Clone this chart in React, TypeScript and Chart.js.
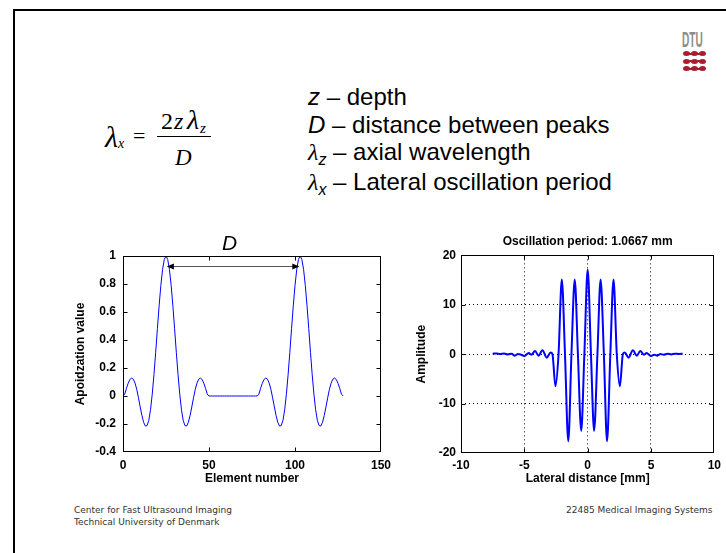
import React, { useEffect, useRef } from "react";
import { Chart, registerables } from "chart.js";

Chart.register(...registerables);

const SANS = '"Liberation Sans", Arial, Helvetica, sans-serif';
const SERIF = '"Liberation Serif", "Times New Roman", serif';

// ---------- Left chart: apodization (value per element number 0..128) ----------
const apodizationValues = [
  0, 0.013, 0.055, 0.091, 0.118, 0.128, 0.12, 0.092, 0.047, -0.013, -0.078, -0.139, -0.188, -0.215, -0.211, -0.174, -0.098, 0.013, 0.153, 0.312, 0.481, 0.644, 0.789, 0.903, 0.975, 1,
  0.975, 0.903, 0.789, 0.644, 0.481, 0.312, 0.153, 0.013, -0.098, -0.174, -0.211, -0.215, -0.188, -0.139, -0.078, -0.013, 0.047, 0.092, 0.12, 0.128, 0.118, 0.091, 0.055, 0.013, 0,
  0, 0, 0, 0, 0, 0, 0, 0, 0, 0, 0, 0, 0, 0, 0, 0, 0, 0, 0, 0, 0, 0, 0, 0, 0, 0, 0,
  0, 0.013, 0.055, 0.091, 0.118, 0.128, 0.12, 0.092, 0.047, -0.013, -0.078, -0.139, -0.188, -0.215, -0.211, -0.174, -0.098, 0.013, 0.153, 0.312, 0.481, 0.644, 0.789, 0.903, 0.975, 1,
  0.975, 0.903, 0.789, 0.644, 0.481, 0.312, 0.153, 0.013, -0.098, -0.174, -0.211, -0.215, -0.188, -0.139, -0.078, -0.013, 0.047, 0.092, 0.12, 0.128, 0.118, 0.091, 0.055, 0.013, 0,
];
const elementTicks = [0, 50, 100, 150];
const apodTicks = [-0.4, -0.2, 0, 0.2, 0.4, 0.6, 0.8, 1];
const apodTickLabels = ["-0.4", "-0.2", "0", "0.2", "0.4", "0.6", "0.8", "1"];
const arrowFrom = 25.5;
const arrowTo = 102.5;
const arrowLevel = 0.93;
const arrowText = "D";
const arrowTextAt = 62;

// ---------- Right chart: lateral oscillation ----------
const lateralDistance = [
  -7.5, -7.2, -6.9, -6.6, -6.3, -6.0, -5.75, -5.5, -5.25, -5.0, -4.8, -4.65, -4.45, -4.15, -3.88, -3.57, -3.23, -2.92,
  -2.78, -2.54, -2.3, -2.04, -1.79, -1.53, -1.28, -1.02, -0.77, -0.51, -0.26, 0, 0.26, 0.51, 0.77, 1.02, 1.28, 1.53, 1.79, 2.04, 2.3, 2.54, 2.78,
  2.92, 3.23, 3.57, 3.88, 4.15, 4.45, 4.65, 4.8, 5.0, 5.25, 5.5, 5.75, 6.0, 6.3, 6.6, 6.9, 7.2, 7.5,
];
const amplitude = [
  0.1, 0.15, 0.05, 0.15, -0.05, 0.1, -0.3, 0.05, -0.1, -0.35, 0.0, 0.25, -0.1, 0.65, -0.3, 0.8, -0.7, 0.35,
  0, -6.5, 0, 15.1, 0, -17.6, 0, 15.1, 0, -15.5, 0, 17.1, 0, -15.5, 0, 15.1, 0, -17.6, 0, 15.1, 0, -6.5, 0,
  0.35, -0.7, 0.8, -0.3, 0.65, -0.1, 0.25, 0, -0.35, -0.1, -0.3, 0.05, -0.1, 0.1, -0.05, 0.1, 0.05, 0.1,
];
const lateralTicks = [-10, -5, 0, 5, 10];
const amplitudeTicks = [-20, -10, 0, 10, 20];
const rightTitle = "Oscillation period: 1.0667 mm";

const tickFont = { family: SANS, size: 12, weight: "bold" as const };

// MATLAB-like box with inward tick marks
const framePlugin = {
  id: "matlabFrame",
  afterDatasetsDraw(chart: any) {
    const { ctx, chartArea: a, scales } = chart;
    const L = Math.round(a.left) + 0.5;
    const R = Math.round(a.right) - 0.5;
    const T = Math.round(a.top) + 0.5;
    const B = Math.round(a.bottom) - 0.5;
    ctx.save();
    ctx.strokeStyle = "#000";
    ctx.lineWidth = 1;
    ctx.strokeRect(L, T, R - L, B - T);
    const len = 4;
    ctx.beginPath();
    for (const t of scales.x.ticks) {
      const px = Math.round(scales.x.getPixelForValue(t.value)) + 0.5;
      if (px <= L + 1 || px >= R - 1) continue;
      ctx.moveTo(px, B);
      ctx.lineTo(px, B - len);
      ctx.moveTo(px, T);
      ctx.lineTo(px, T + len);
    }
    for (const t of scales.y.ticks) {
      const py = Math.round(scales.y.getPixelForValue(t.value)) + 0.5;
      if (py <= T + 1 || py >= B - 1) continue;
      ctx.moveTo(L, py);
      ctx.lineTo(L + len, py);
      ctx.moveTo(R, py);
      ctx.lineTo(R - len, py);
    }
    ctx.stroke();
    ctx.restore();
  },
};

const arrowPlugin = {
  id: "peakArrow",
  afterDatasetsDraw(chart: any) {
    const { ctx, scales, chartArea } = chart;
    const x1 = scales.x.getPixelForValue(arrowFrom);
    const x2 = scales.x.getPixelForValue(arrowTo);
    const yy = Math.round(scales.y.getPixelForValue(arrowLevel)) + 0.5;
    ctx.save();
    ctx.strokeStyle = "#555";
    ctx.lineWidth = 1;
    ctx.beginPath();
    ctx.moveTo(x1 + 6, yy);
    ctx.lineTo(x2 - 6, yy);
    ctx.stroke();
    ctx.fillStyle = "#000";
    ctx.beginPath();
    ctx.moveTo(x1, yy);
    ctx.lineTo(x1 + 7, yy - 3);
    ctx.lineTo(x1 + 7, yy + 3);
    ctx.closePath();
    ctx.fill();
    ctx.beginPath();
    ctx.moveTo(x2, yy);
    ctx.lineTo(x2 - 7, yy - 3);
    ctx.lineTo(x2 - 7, yy + 3);
    ctx.closePath();
    ctx.fill();
    ctx.font = `italic 21px ${SANS}`;
    ctx.textAlign = "center";
    ctx.textBaseline = "alphabetic";
    ctx.fillText(arrowText, scales.x.getPixelForValue(arrowTextAt), chartArea.top - 6.5);
    ctx.restore();
  },
};

function leftConfig(): any {
  return {
    type: "line",
    data: {
      datasets: [
        {
          data: apodizationValues.map((y, n) => ({ x: n, y })),
          borderColor: "#0000ff",
          borderWidth: 1,
          pointRadius: 0,
          tension: 0,
          fill: false,
        },
      ],
    },
    options: {
      animation: false,
      responsive: false,
      maintainAspectRatio: false,
      layout: { padding: { left: 0, top: 26, right: 19, bottom: 0 } },
      plugins: { legend: { display: false }, tooltip: { enabled: false }, title: { display: false } },
      scales: {
        x: {
          type: "linear",
          min: 0,
          max: 150,
          afterBuildTicks: (s: any) => {
            s.ticks = elementTicks.map((v) => ({ value: v }));
          },
          afterFit: (s: any) => {
            s.height = 38;
          },
          grid: { display: false, drawTicks: false },
          border: { display: false },
          ticks: { padding: 6, font: tickFont, color: "#000", maxRotation: 0, autoSkip: false, callback: (v: any) => String(v) },
          title: { display: true, text: "Element number", font: tickFont, color: "#000", padding: { top: 0, bottom: 4 } },
        },
        y: {
          type: "linear",
          min: -0.4,
          max: 1,
          afterBuildTicks: (s: any) => {
            s.ticks = apodTicks.map((v) => ({ value: v }));
          },
          afterFit: (s: any) => {
            s.width = 63;
          },
          grid: { display: false, drawTicks: false },
          border: { display: false },
          ticks: {
            padding: 7,
            font: tickFont,
            color: "#000",
            autoSkip: false,
            callback: (v: any) => apodTickLabels[apodTicks.indexOf(v)] ?? String(v),
          },
          title: { display: true, text: "Apoidzation value", font: tickFont, color: "#000", padding: { top: 13, bottom: 0 } },
        },
      },
    },
    plugins: [framePlugin, arrowPlugin],
  };
}

const gridColor = (edges: number[]) => (ctx: any) =>
  ctx.tick && edges.includes(ctx.tick.value) ? "rgba(0,0,0,0)" : "#000";

function rightConfig(): any {
  return {
    type: "line",
    data: {
      datasets: [
        {
          data: lateralDistance.map((x, i) => ({ x, y: amplitude[i] })),
          borderColor: "#0000ff",
          borderWidth: 2,
          pointRadius: 0,
          cubicInterpolationMode: "monotone",
          fill: false,
        },
      ],
    },
    options: {
      animation: false,
      responsive: false,
      maintainAspectRatio: false,
      layout: { padding: { left: 0, top: 0, right: 8, bottom: 0 } },
      plugins: {
        legend: { display: false },
        tooltip: { enabled: false },
        title: {
          display: true,
          text: rightTitle,
          fullSize: false,
          font: tickFont,
          color: "#000",
          padding: { top: 4, bottom: 7 },
        },
      },
      scales: {
        x: {
          type: "linear",
          min: -10,
          max: 10,
          afterBuildTicks: (s: any) => {
            s.ticks = lateralTicks.map((v) => ({ value: v }));
          },
          afterFit: (s: any) => {
            s.height = 37;
          },
          grid: { display: true, drawTicks: false, color: gridColor([-10, 10]), lineWidth: 1 },
          border: { display: false, dash: [1, 3] },
          ticks: { padding: 5, font: tickFont, color: "#000", maxRotation: 0, autoSkip: false, callback: (v: any) => String(v) },
          title: { display: true, text: "Lateral distance [mm]", font: tickFont, color: "#000", padding: { top: 0, bottom: 4 } },
        },
        y: {
          type: "linear",
          min: -20,
          max: 20,
          afterBuildTicks: (s: any) => {
            s.ticks = amplitudeTicks.map((v) => ({ value: v }));
          },
          afterFit: (s: any) => {
            s.width = 61;
          },
          grid: { display: true, drawTicks: false, color: gridColor([-20, 20]), lineWidth: 1 },
          border: { display: false, dash: [1, 3] },
          ticks: { padding: 5, font: tickFont, color: "#000", autoSkip: false, callback: (v: any) => String(v) },
          title: { display: true, text: "Amplitude", font: tickFont, color: "#000", padding: { top: 14, bottom: 0 } },
        },
      },
    },
    plugins: [framePlugin],
  };
}

function ChartCanvas(props: { make: () => any; left: number; top: number; width: number; height: number }) {
  const ref = useRef<HTMLCanvasElement>(null);
  useEffect(() => {
    const chart = new Chart(ref.current as HTMLCanvasElement, props.make());
    return () => chart.destroy();
  }, []);
  return (
    <canvas
      ref={ref}
      width={props.width}
      height={props.height}
      style={{ position: "absolute", left: props.left, top: props.top, width: props.width, height: props.height }}
    />
  );
}

const abs = (left: number, top: number, extra: any = {}) => ({
  position: "absolute" as const,
  left,
  top,
  whiteSpace: "nowrap" as const,
  lineHeight: 1,
  ...extra,
});

function Sub(props: { children: any; size?: number; drop?: number; serif?: boolean }) {
  return (
    <span
      style={{
        fontSize: props.size ?? 16,
        position: "relative",
        top: props.drop ?? 5,
        fontStyle: "italic",
        fontFamily: props.serif ? SERIF : SANS,
      }}
    >
      {props.children}
    </span>
  );
}

function DtuMark(props: { top: number }) {
  const c = "#a81d2d";
  return (
    <div style={{ position: "absolute", left: 683, top: props.top, width: 23, height: 5 }}>
      <div style={{ position: "absolute", left: 1, top: 1.5, width: 21, height: 2, background: c }} />
      <div style={{ position: "absolute", left: 0, top: 0, width: 7, height: 5, borderRadius: "50%", background: c }} />
      <div style={{ position: "absolute", left: 8, top: 0, width: 7, height: 5, borderRadius: "50%", background: c }} />
      <div style={{ position: "absolute", left: 16, top: 0, width: 7, height: 5, borderRadius: "50%", background: c }} />
    </div>
  );
}

const serifI = (size: number) => ({ fontFamily: SERIF, fontStyle: "italic", fontSize: size });

export default function App() {
  return (
    <div
      style={{
        position: "absolute",
        left: 0,
        top: 0,
        width: 726,
        height: 553,
        background: "#fff",
        overflow: "hidden",
        fontFamily: SANS,
        color: "#000",
      }}
    >
      {/* slide frame */}
      <div style={{ position: "absolute", left: 13, top: 9, width: 760, height: 600, borderTop: "2px solid #000", borderLeft: "2px solid #000" }} />

      {/* DTU logo */}
      <div style={abs(682, 29, { fontSize: 22, fontWeight: "bold", color: "#8c8c8c", transform: "scaleX(0.46)", transformOrigin: "left top", fontFamily: SANS })}>DTU</div>
      <DtuMark top={51} />
      <DtuMark top={58.5} />
      <DtuMark top={66} />

      {/* formula */}
      <div style={abs(105, 122, serifI(30))}>λ</div>
      <div style={abs(118, 137, serifI(14))}>x</div>
      <div style={abs(133, 125, { fontFamily: SERIF, fontSize: 22 })}>=</div>
      <div style={abs(161, 109, { fontFamily: SERIF, fontSize: 24 })}>2</div>
      <div style={abs(174, 109, serifI(24))}>z</div>
      <div style={abs(187, 106, serifI(28))}>λ</div>
      <div style={abs(200, 121, serifI(15))}>z</div>
      <div style={{ position: "absolute", left: 157, top: 136, width: 54, height: 1, background: "#000" }} />
      <div style={abs(175, 146, serifI(23))}>D</div>

      {/* definitions */}
      <div style={abs(308, 85, { fontSize: 24 })}>
        <i>z</i> – depth
      </div>
      <div style={abs(308, 113, { fontSize: 24 })}>
        <i>D</i> – distance between peaks
      </div>
      <div style={abs(308, 140, { fontSize: 24 })}>
        <span style={{ fontFamily: SERIF, fontStyle: "italic" }}>λ</span>
        <Sub>z</Sub> – axial wavelength
      </div>
      <div style={abs(308, 170, { fontSize: 24 })}>
        <span style={{ fontFamily: SERIF, fontStyle: "italic" }}>λ</span>
        <Sub>x</Sub> – Lateral oscillation period
      </div>

      {/* charts */}
      <ChartCanvas make={leftConfig} left={60} top={230} width={340} height={260} />
      <ChartCanvas make={rightConfig} left={400} top={230} width={326} height={260} />

      {/* footer */}
      <div style={abs(74, 506, { fontFamily: '"DejaVu Sans", Verdana, sans-serif', fontSize: 9, color: "#333" })}>
        Center for Fast Ultrasound Imaging
      </div>
      <div style={abs(74, 518, { fontFamily: '"DejaVu Sans", Verdana, sans-serif', fontSize: 9, color: "#333" })}>
        Technical University of Denmark
      </div>
      <div style={abs(566, 506, { fontFamily: '"DejaVu Sans", Verdana, sans-serif', fontSize: 9, color: "#333" })}>
        22485 Medical Imaging Systems
      </div>
    </div>
  );
}
